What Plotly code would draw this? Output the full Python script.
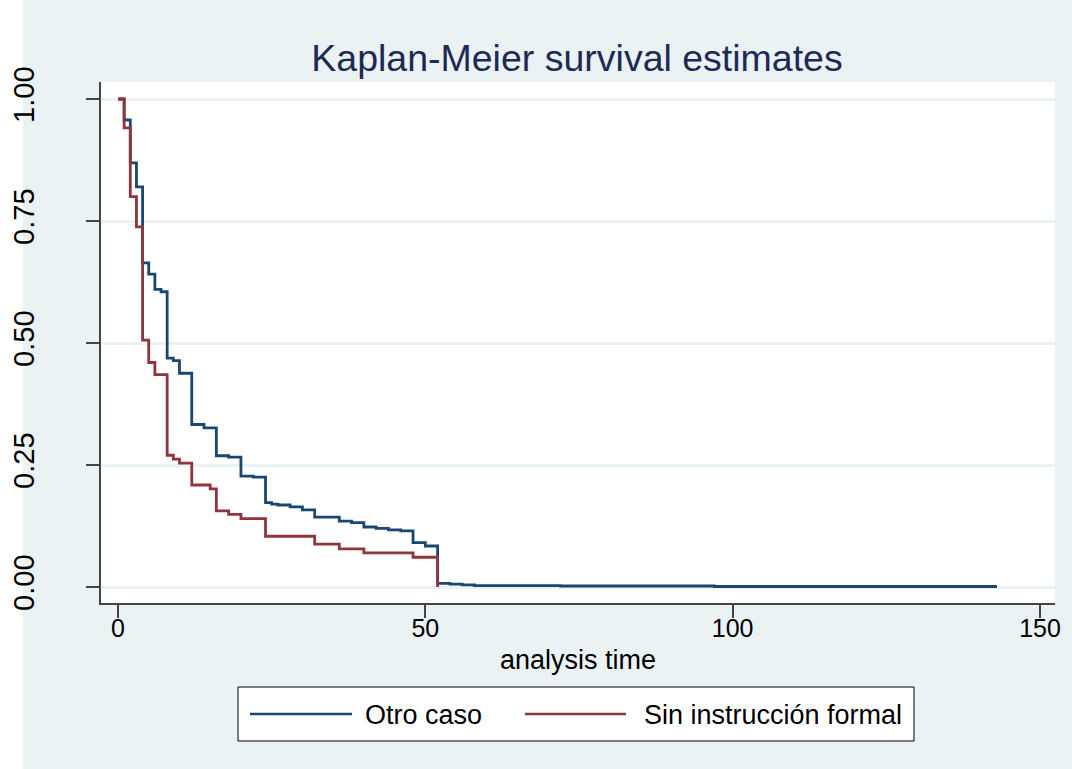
import plotly.graph_objects as go

# ---------------- data ----------------
t_otro = [0, 1, 2, 3, 4, 5, 6, 7, 8, 9, 10, 12, 14, 16, 18, 20, 22, 24, 25, 26, 28, 30,
          32, 36, 38, 40, 42, 44, 46, 48, 50, 52, 54, 56, 58, 72, 97, 143]
s_otro = [1.0, 0.957, 0.869, 0.820, 0.664, 0.641, 0.610, 0.605, 0.469, 0.464, 0.438,
          0.333, 0.326, 0.269, 0.266, 0.227, 0.225, 0.173, 0.170, 0.168, 0.164, 0.158,
          0.143, 0.135, 0.132, 0.123, 0.120, 0.117, 0.115, 0.091, 0.084, 0.0075, 0.006,
          0.0045, 0.003, 0.002, 0.001, 0.001]

t_sin = [0, 1, 2, 3, 4, 5, 6, 8, 9, 10, 12, 15, 16, 18, 20, 24, 32, 36, 40, 48, 52]
s_sin = [1.0, 0.941, 0.800, 0.738, 0.506, 0.460, 0.435, 0.270, 0.262, 0.254, 0.209,
         0.201, 0.156, 0.149, 0.140, 0.104, 0.088, 0.078, 0.070, 0.061, 0.0]

series_names = ["Otro caso", "Sin instrucción formal"]
x_ticks = [0, 50, 100, 150]
y_ticks = [0, 0.25, 0.5, 0.75, 1.0]
y_ticktext = ["0.00", "0.25", "0.50", "0.75", "1.00"]

title_text = "Kaplan-Meier survival estimates"
x_title = "analysis time"

# ---------------- style ----------------
W, H = 1072, 769
L, R, T, B = 101, 1055, 82, 603       # plot area in pixels
BLUE = "#1A476F"
RED = "#90353B"
BG = "#EAF2F3"
FONT = "Liberation Sans, Arial, sans-serif"


def px(x):
    return (x - L) / (R - L)


def py(y):
    return (B - y) / (B - T)


fig = go.Figure()
fig.add_trace(go.Scatter(x=t_otro, y=s_otro, mode="lines", line_shape="hv",
                         line=dict(color=BLUE, width=2.8), name=series_names[0],
                         showlegend=False))
fig.add_trace(go.Scatter(x=t_sin, y=s_sin, mode="lines", line_shape="hv",
                         line=dict(color=RED, width=2.8), name=series_names[1],
                         showlegend=False))

# manual legend (Stata-style long keys)
shapes = [
    dict(type="rect", xref="paper", yref="paper", x0=px(0), x1=px(23), y0=py(H), y1=py(0),
         fillcolor="white", line=dict(width=0), layer="below"),
    dict(type="rect", xref="paper", yref="paper", x0=px(238), x1=px(914), y0=py(741), y1=py(687),
         fillcolor="white", line=dict(color="black", width=1)),
    dict(type="line", xref="paper", yref="paper", x0=px(250), x1=px(352), y0=py(714), y1=py(714),
         line=dict(color=BLUE, width=2.5)),
    dict(type="line", xref="paper", yref="paper", x0=px(525), x1=px(626), y0=py(714), y1=py(714),
         line=dict(color=RED, width=2.5)),
]
annotations = [
    dict(text=series_names[0], xref="paper", yref="paper", x=px(363), y=py(715),
         xanchor="left", yanchor="middle", showarrow=False,
         font=dict(family=FONT, size=27, color="black")),
    dict(text=series_names[1], xref="paper", yref="paper", x=px(642), y=py(715),
         xanchor="left", yanchor="middle", showarrow=False,
         font=dict(family=FONT, size=27, color="black")),
]

x0_px, x_scale = 118, (1040 - 118) / 150.0
y0_px, y_scale = 587, 488.0

fig.update_layout(
    width=W, height=H, autosize=False,
    margin=dict(l=L, r=W - R, t=T, b=H - B, pad=0, autoexpand=False),
    paper_bgcolor=BG, plot_bgcolor="white",
    title=dict(text=title_text, x=px(577), xref="paper", xanchor="center",
               y=1 - 58 / H, yref="container", yanchor="middle",
               font=dict(family=FONT, size=37.5, color="#1E2A55")),
    shapes=shapes, annotations=annotations,
    xaxis=dict(range=[(L - x0_px) / x_scale, (R - x0_px) / x_scale], automargin=False,
               tickvals=x_ticks, ticks="outside", ticklen=13, tickwidth=1.5,
               tickcolor="#444444", showline=True, linecolor="#444444", linewidth=1.5,
               showgrid=False, zeroline=False, ticklabelstandoff=-11,
               tickfont=dict(family=FONT, size=25, color="black"),
               title=dict(text=x_title, standoff=9,
                          font=dict(family=FONT, size=27, color="black"))),
    yaxis=dict(range=[(y0_px - B) / y_scale, (y0_px - T) / y_scale], automargin=False,
               tickvals=y_ticks, ticktext=y_ticktext, tickangle=-90,
               ticks="outside", ticklen=13, tickwidth=1.5, tickcolor="#444444",
               showline=True, linecolor="#444444", linewidth=1.5,
               showgrid=True, gridcolor=BG, gridwidth=2.5, zeroline=False,
               ticklabelstandoff=41,
               tickfont=dict(family=FONT, size=29, color="black")),
)

fig.write_html("out.html", config={"displayModeBar": False},
               post_script="document.body.style.margin='0px';")
